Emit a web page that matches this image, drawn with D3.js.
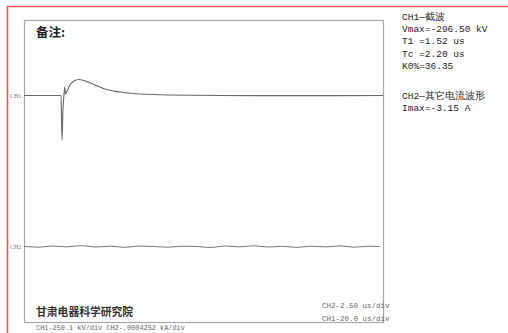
<!DOCTYPE html>
<html>
<head>
<meta charset="utf-8">
<script src="https://cdn.jsdelivr.net/npm/d3@7"></script>
<style>
  body { margin: 0; background: #fff; }
  svg { display: block; }
</style>
</head>
<body>
<div id="chart"></div>
<script>
// ---------- data
// CH1 chopped wave: time in us, voltage in kV
const ch1Time = [0, 20.1, 20.6, 21.2, 21.7, 22.3, 22.7, 23.1, 23.7, 25.6, 27.9, 30.6, 34, 39.6, 45, 53.5, 64.6, 81, 109, 150, 200]
const ch1Volt = [0, 0, -3, -296.5, -90, 10, 56, 10, 23, 70, 96, 106, 96, 70, 43, 23, 10, 3, 0, -1, 0]

// CH2 other current wave: time in us, current in A (flat with noise)
const ch2Time = [0, 1, 2, 3, 4, 5, 6, 7, 8, 9, 10, 11, 12, 13, 14, 15, 16, 17, 18, 19, 20, 21, 22, 23, 24, 24.8]
const ch2Amp = [0, -0.008, 0.006, -0.004, 0.01, -0.006, 0.004, -0.01, 0.005, 0, -0.008, 0.003, 0, -0.012, 0.006, -0.004, 0.008, -0.006, 0.002, -0.01, 0.004, -0.005, 0.007, -0.008, 0.003, 0]

const ch1Div = { volt: 250.1, time: 20.0, offset: 2 }
const ch2Div = { amp: 0.4252, time: 2.50, offset: -2 }

const infoLines = ["CH1\u2014截波", "Vmax=-296.50 kV", "T1 =1.52 us", "Tc =2.20 us", "K0%=36.35"]
const infoLines2 = ["CH2\u2014其它电流波形", "Imax=-3.15 A"]
const scaleNote = "CH1-250.1 kV/div  CH2-.0004252 kA/div"
const timeNotes = ["CH2-2.50 us/div", "CH1-20.0 us/div"]

// ---------- dimensions
const dims = { width: 508, height: 333, frame: { left: 24, top: 20, right: 383, bottom: 322 } }

const svg = d3.select("#chart").append("svg")
  .attr("width", dims.width)
  .attr("height", dims.height)

// ---------- scales (scope divisions)
const xScale = d3.scaleLinear().domain([0, 10]).range([dims.frame.left, dims.frame.right])
const yScale = d3.scaleLinear().domain([-4, 4]).range([dims.frame.bottom, dims.frame.top])

// ---------- red outer border
svg.append("path")
  .attr("d", `M7.5,${dims.height} V6.5 H${dims.width}`)
  .attr("fill", "none")
  .attr("stroke", "#ee5555")
  .attr("stroke-width", 1.6)

// ---------- plot frame
svg.append("rect")
  .attr("x", dims.frame.left + 0.5)
  .attr("y", dims.frame.top + 0.5)
  .attr("width", dims.frame.right - dims.frame.left)
  .attr("height", dims.frame.bottom - dims.frame.top)
  .attr("fill", "none")
  .attr("stroke", "#a8a8a8")
  .attr("stroke-width", 1.2)

// ---------- traces
const ch1Data = ch1Time.map((t, i) => ({ x: t / ch1Div.time, y: ch1Volt[i] / ch1Div.volt + ch1Div.offset }))
const ch2Data = ch2Time.map((t, i) => ({ x: t / ch2Div.time, y: ch2Amp[i] / ch2Div.amp + ch2Div.offset }))

const lineGenerator = d3.line()
  .x(d => xScale(d.x))
  .y(d => yScale(d.y))

svg.append("path")
  .attr("d", lineGenerator.curve(d3.curveMonotoneX)(ch1Data))
  .attr("fill", "none")
  .attr("stroke", "#666")
  .attr("stroke-width", 1.1)

svg.append("path")
  .attr("d", lineGenerator.curve(d3.curveLinear)(ch2Data))
  .attr("fill", "none")
  .attr("stroke", "#777")
  .attr("stroke-width", 1)

// ---------- channel markers
const channels = [{ name: "CH1", y: ch1Div.offset }, { name: "CH2", y: ch2Div.offset }]
svg.selectAll(".chlabel")
  .data(channels)
  .join("text")
  .attr("class", "chlabel")
  .attr("x", 10)
  .attr("y", d => yScale(d.y) + 2)
  .attr("font-family", "Liberation Serif")
  .attr("font-size", 6)
  .attr("fill", "#777")
  .text(d => d.name)

// ---------- texts
svg.append("text")
  .attr("x", 36)
  .attr("y", 37)
  .attr("font-family", "Noto Sans CJK SC")
  .attr("font-weight", "bold")
  .attr("font-size", 12.5)
  .attr("fill", "#222")
  .text("备注:")

const info = svg.append("g")
  .attr("font-family", "Liberation Mono")
  .attr("font-size", 9.5)
  .attr("fill", "#222")

info.selectAll(".info1")
  .data(infoLines)
  .join("text")
  .attr("x", 402)
  .attr("y", (d, i) => 20 + i * 12.2)
  .text(d => d)

info.selectAll(".info2")
  .data(infoLines2)
  .join("text")
  .attr("x", 402)
  .attr("y", (d, i) => 99 + i * 12.2)
  .text(d => d)

svg.append("text")
  .attr("x", 36)
  .attr("y", 316)
  .attr("font-family", "Noto Sans CJK SC")
  .attr("font-weight", "bold")
  .attr("font-size", 10.8)
  .attr("fill", "#333")
  .text("甘肃电器科学研究院")

svg.append("text")
  .attr("x", 36)
  .attr("y", 330)
  .attr("font-family", "Liberation Mono")
  .attr("font-size", 6.9)
  .attr("fill", "#666")
  .text(scaleNote)

svg.selectAll(".tnote")
  .data(timeNotes)
  .join("text")
  .attr("x", 322)
  .attr("y", (d, i) => 307.5 + i * 13)
  .attr("font-family", "Liberation Mono")
  .attr("font-size", 7.5)
  .attr("fill", "#666")
  .text(d => d)
</script>
</body>
</html>
